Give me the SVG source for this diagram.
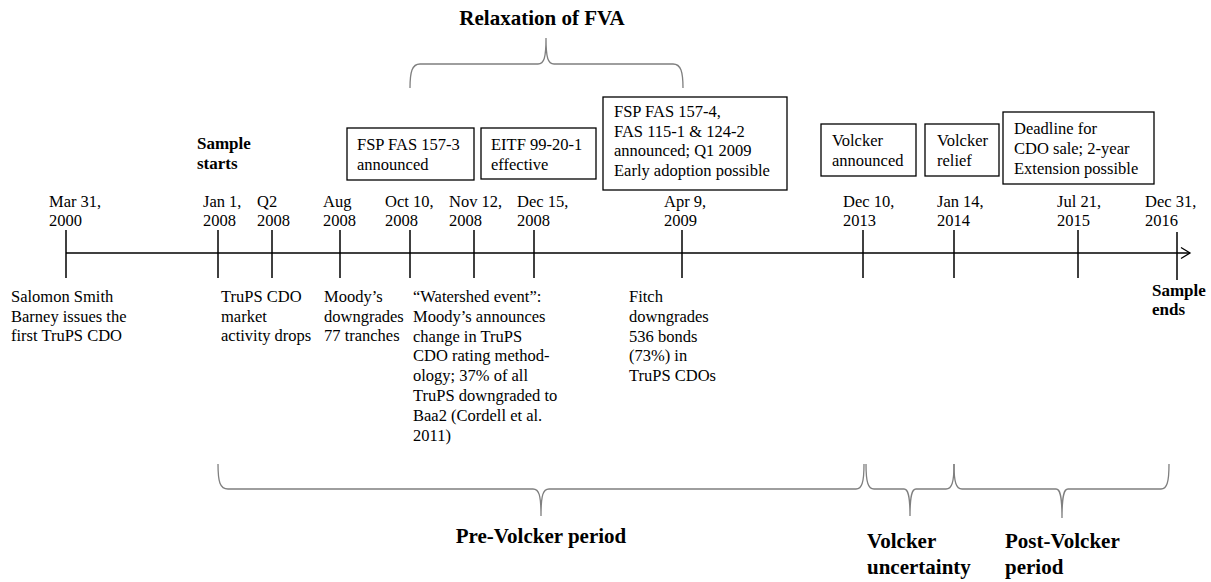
<svg xmlns="http://www.w3.org/2000/svg" width="1211" height="582" viewBox="0 0 1211 582" font-family="'Liberation Serif', 'Times New Roman', 'DejaVu Serif', serif">
<style>
text{font-family:'Liberation Serif','Times New Roman','DejaVu Serif',serif;font-size:16.5px;fill:#000}
.b{font-weight:bold;font-size:17px}
.h{font-weight:bold;font-size:21px}
.box{fill:#fff;stroke:#000;stroke-width:1.3}
.tick{stroke:#000;stroke-width:1.5}
.axis{stroke:#000;stroke-width:1.3;fill:none}
.brace{fill:none;stroke:#7f7f7f;stroke-width:1.3}
</style>
<rect width="1211" height="582" fill="#fff"/>
<g id="connectors">
<line class="axis" x1="66" y1="253" x2="1190" y2="253"/>
<polyline class="axis" points="1181,247.5 1190,253 1181,258.5"/>
<line class="tick" x1="66" y1="230" x2="66" y2="278"/>
<line class="tick" x1="218" y1="230" x2="218" y2="278"/>
<line class="tick" x1="272" y1="230" x2="272" y2="278"/>
<line class="tick" x1="340" y1="230" x2="340" y2="278"/>
<line class="tick" x1="410" y1="230" x2="410" y2="278"/>
<line class="tick" x1="474" y1="230" x2="474" y2="278"/>
<line class="tick" x1="534" y1="230" x2="534" y2="278"/>
<line class="tick" x1="682" y1="230" x2="682" y2="278"/>
<line class="tick" x1="863" y1="230" x2="863" y2="278"/>
<line class="tick" x1="954" y1="230" x2="954" y2="278"/>
<line class="tick" x1="1078" y1="230" x2="1078" y2="278"/>
<line class="tick" x1="1177" y1="232" x2="1177" y2="280"/>
</g>
<g id="braces">
<path class="brace" d="M410,88 C410,72 412,64 420,64 L538,64 C544,64 546,58 546,38 C546,58 548,64 554,64 L673,64 C681,64 683,72 683,88"/>
<path class="brace" d="M218,464 C218,482 220,489 228,489 L533,489 C539,489 541,495 541,516 C541,495 543,489 549,489 L856,489 C862,489 864,482 864,464"/>
<path class="brace" d="M866,464 C866,482 868,489 874,489 L904,489 C908,489 910,495 910,516 C910,495 912,489 916,489 L946,489 C952,489 954,482 954,464"/>
<path class="brace" d="M954,464 C954,482 956,489 962,489 L1056,489 C1060,489 1062,495 1062,518 C1062,495 1064,489 1068,489 L1161,489 C1167,489 1169,482 1169,464"/>
</g>
<g id="relaxation-label"><text class="h" x="542" y="25" text-anchor="middle">Relaxation of FVA</text></g>
<g id="sample-starts"><text class="b" x="197" y="149">Sample</text><text class="b" x="197" y="169">starts</text></g>
<g id="sample-ends"><text class="b" x="1152" y="296">Sample</text><text class="b" x="1152" y="315">ends</text></g>
<g id="box-fsp1573"><rect class="box" x="347" y="128" width="127" height="52"/><text x="357" y="150">FSP FAS 157-3</text><text x="357" y="170">announced</text></g>
<g id="box-eitf"><rect class="box" x="481" y="128" width="115" height="51"/><text x="491" y="150">EITF 99-20-1</text><text x="491" y="170">effective</text></g>
<g id="box-fsp1574"><rect class="box" x="603" y="97" width="184" height="93"/><text x="614" y="117">FSP FAS 157-4,</text><text x="614" y="136.5">FAS 115-1 &amp; 124-2</text><text x="614" y="156">announced; Q1 2009</text><text x="614" y="175.5">Early adoption possible</text></g>
<g id="box-volcker-announced"><rect class="box" x="821" y="124" width="95" height="52"/><text x="832" y="146">Volcker</text><text x="832" y="166">announced</text></g>
<g id="box-volcker-relief"><rect class="box" x="925" y="124" width="74" height="52"/><text x="937" y="146">Volcker</text><text x="937" y="166">relief</text></g>
<g id="box-deadline"><rect class="box" x="1003" y="112" width="151" height="72"/><text x="1014" y="134">Deadline for</text><text x="1014" y="154">CDO sale; 2-year</text><text x="1014" y="174">Extension possible</text></g>
<g id="dates">
<text x="49" y="207">Mar 31,</text><text x="49" y="226">2000</text>
<text x="203" y="207">Jan 1,</text><text x="203" y="226">2008</text>
<text x="257" y="207">Q2</text><text x="257" y="226">2008</text>
<text x="323" y="207">Aug</text><text x="323" y="226">2008</text>
<text x="385" y="207">Oct 10,</text><text x="385" y="226">2008</text>
<text x="449" y="207">Nov 12,</text><text x="449" y="226">2008</text>
<text x="517" y="207">Dec 15,</text><text x="517" y="226">2008</text>
<text x="664" y="207">Apr 9,</text><text x="664" y="226">2009</text>
<text x="843" y="207">Dec 10,</text><text x="843" y="226">2013</text>
<text x="937" y="207">Jan 14,</text><text x="937" y="226">2014</text>
<text x="1057" y="207">Jul 21,</text><text x="1057" y="226">2015</text>
<text x="1145" y="207">Dec 31,</text><text x="1145" y="226">2016</text>
</g>
<g id="event-salomon"><text x="11" y="302">Salomon Smith</text><text x="11" y="321.5">Barney issues the</text><text x="11" y="341">first TruPS CDO</text></g>
<g id="event-trups-drops"><text x="221" y="302">TruPS CDO</text><text x="221" y="321.5">market</text><text x="221" y="341">activity drops</text></g>
<g id="event-moodys"><text x="324" y="302">Moody’s</text><text x="324" y="321.5">downgrades</text><text x="324" y="341">77 tranches</text></g>
<g id="event-watershed"><text x="413" y="302">“Watershed event”:</text><text x="413" y="321.8">Moody’s announces</text><text x="413" y="341.6">change in TruPS</text><text x="413" y="361.4">CDO rating method-</text><text x="413" y="381.2">ology; 37% of all</text><text x="413" y="401">TruPS downgraded to</text><text x="413" y="420.8">Baa2 (Cordell et al.</text><text x="413" y="440.6">2011)</text></g>
<g id="event-fitch"><text x="629" y="302">Fitch</text><text x="629" y="321.8">downgrades</text><text x="629" y="341.6">536 bonds</text><text x="629" y="361.4">(73%) in</text><text x="629" y="381.2">TruPS CDOs</text></g>
<g id="period-pre"><text class="h" x="541" y="543" text-anchor="middle">Pre-Volcker period</text></g>
<g id="period-uncertainty"><text class="h" x="867" y="548">Volcker</text><text class="h" x="867" y="574">uncertainty</text></g>
<g id="period-post"><text class="h" x="1005" y="548">Post-Volcker</text><text class="h" x="1005" y="574">period</text></g>
</svg>
